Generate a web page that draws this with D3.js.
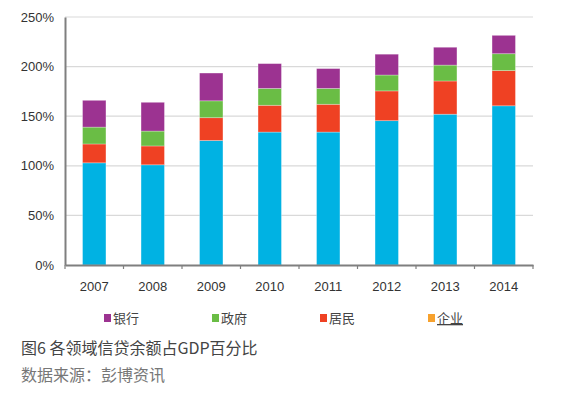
<!DOCTYPE html>
<html>
<head>
<meta charset="utf-8">
<script src="https://cdn.jsdelivr.net/npm/d3@7"></script>
<style>
  body { margin: 0; background: #fff; }
  svg { display: block; }
</style>
</head>
<body>
<div id="chart"></div>
<script>
// Credit by sector as % of GDP
const years = ["2007", "2008", "2009", "2010", "2011", "2012", "2013", "2014"];
const corporate = [103, 101, 125.5, 134, 134, 145.5, 152, 160.5]; // 企业
const household = [19, 19, 23, 27, 28, 30, 33.5, 35.5];             // 居民
const government = [17, 15, 17, 17, 16, 16, 16, 17];               // 政府
const banks = [27, 29, 28, 25, 20, 21, 18, 18.5];                   // 银行
const yTicks = [0, 50, 100, 150, 200, 250];

const width = 577, height = 396;
const margin = { top: 17, left: 65, right: 44, bottom: 131 };

const svg = d3.select("#chart").append("svg")
    .attr("width", width)
    .attr("height", height);

const x = d3.scaleBand()
    .domain(years)
    .range([margin.left, width - margin.right])
    .paddingInner(0.6)
    .paddingOuter(0.3);

const y = d3.scaleLinear()
    .domain([0, 250])
    .range([height - margin.bottom, margin.top]);

// Gridlines
svg.append("g")
    .selectAll("line")
    .data(yTicks.filter(d => d > 0))
    .join("line")
    .attr("x1", margin.left)
    .attr("x2", width - margin.right)
    .attr("y1", d => y(d))
    .attr("y2", d => y(d))
    .attr("stroke", "#d9d9d9")
    .attr("stroke-width", 1.2);

// Stack the series
const rows = years.map((yr, i) => ({
    year: yr,
    corporate: corporate[i],
    household: household[i],
    government: government[i],
    banks: banks[i]
}));
const keys = ["corporate", "household", "government", "banks"];
const colors = {
    corporate: "#00b2e3",
    household: "#ef4123",
    government: "#6abd45",
    banks: "#9c3391"
};
const stacked = d3.stack().keys(keys)(rows);

svg.append("g")
    .selectAll("g")
    .data(stacked)
    .join("g")
    .attr("fill", d => colors[d.key])
    .selectAll("rect")
    .data(d => d)
    .join("rect")
    .attr("x", d => x(d.data.year))
    .attr("width", x.bandwidth())
    .attr("y", d => y(d[1]))
    .attr("height", d => y(d[0]) - y(d[1]))
    .attr("stroke", "rgba(255,255,255,0.35)")
    .attr("stroke-width", 0.8);

// Y axis
const yAxis = svg.append("g")
    .attr("transform", `translate(${margin.left},0)`)
    .call(d3.axisLeft(y).tickValues(yTicks).tickFormat(d => d + "%").tickSize(0).tickPadding(11));
yAxis.select(".domain").attr("stroke", "#7f7f7f").attr("stroke-width", 2);
yAxis.selectAll("text")
    .attr("fill", "#333")
    .style("font-family", "'Liberation Sans', Arial, sans-serif")
    .style("font-size", "13px");

// X axis
const xAxis = svg.append("g")
    .attr("transform", `translate(0,${y(0)})`)
    .call(d3.axisBottom(x).tickSize(0).tickPadding(17));
xAxis.select(".domain").attr("stroke", "#7f7f7f").attr("stroke-width", 2);
xAxis.selectAll("text")
    .attr("fill", "#333")
    .style("font-family", "'Liberation Sans', Arial, sans-serif")
    .style("font-size", "13px");

// Category boundary ticks
const bounds = d3.range(years.length + 1).map(i => margin.left + i * (width - margin.left - margin.right) / years.length);
svg.append("g")
    .selectAll("line")
    .data(bounds)
    .join("line")
    .attr("x1", d => d)
    .attr("x2", d => d)
    .attr("y1", y(0))
    .attr("y2", y(0) + 4)
    .attr("stroke", "#7f7f7f")
    .attr("stroke-width", 1.2);

// Legend
const legendItems = [
    { label: "银行", color: "#9c3391" },
    { label: "政府", color: "#6abd45" },
    { label: "居民", color: "#ef4123" },
    { label: "企业", color: "#f7a12d" }
];
const legend = svg.append("g")
    .selectAll("g")
    .data(legendItems)
    .join("g")
    .attr("transform", (d, i) => `translate(${104 + i * 108},314)`);
legend.append("rect")
    .attr("width", 7)
    .attr("height", 8)
    .attr("fill", d => d.color);
legend.append("text")
    .attr("x", 9)
    .attr("y", 9)
    .attr("fill", "#444")
    .style("font-family", "'Noto Sans CJK SC', sans-serif")
    .style("font-size", "13px")
    .style("text-decoration", (d, i) => i === 3 ? "underline" : null)
    .text(d => d.label);

// Caption
svg.append("text")
    .attr("x", 21)
    .attr("y", 354)
    .attr("fill", "#444")
    .style("font-family", "'Noto Sans CJK SC', sans-serif")
    .style("font-size", "16px")
    .text("图6 各领域信贷余额占GDP百分比");

svg.append("text")
    .attr("x", 21)
    .attr("y", 381)
    .attr("fill", "#777")
    .style("font-family", "'Noto Sans CJK SC', sans-serif")
    .style("font-size", "16px")
    .text("数据来源：彭博资讯");
</script>
</body>
</html>
